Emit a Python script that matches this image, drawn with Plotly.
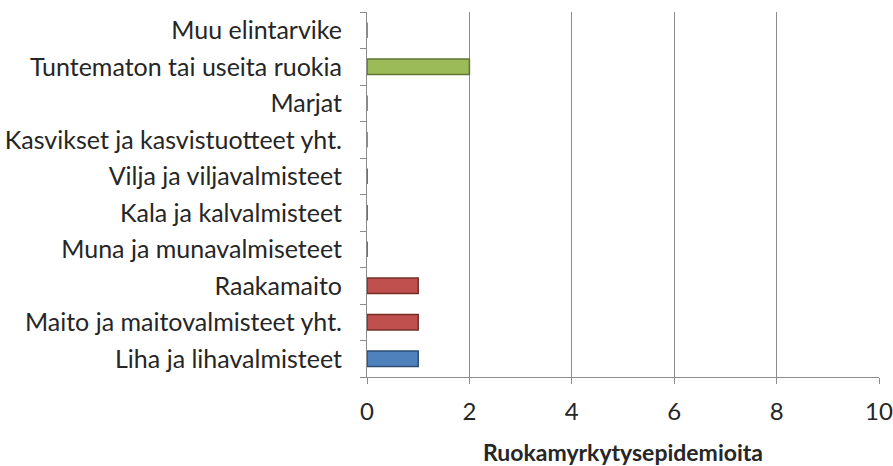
import plotly.graph_objects as go

categories = [
    "Liha ja lihavalmisteet",
    "Maito ja maitovalmisteet yht.",
    "Raakamaito",
    "Muna ja munavalmiseteet",
    "Kala ja kalvalmisteet",
    "Vilja ja viljavalmisteet",
    "Kasvikset ja kasvistuotteet yht.",
    "Marjat",
    "Tuntematon tai useita ruokia",
    "Muu elintarvike",
]
values = [1, 1, 1, 0, 0, 0, 0, 0, 2, 0]
colors = ["#4F81BD", "#C0504D", "#C0504D", "#C0504D", "#C0504D",
          "#C0504D", "#9BBB59", "#9BBB59", "#9BBB59", "#9BBB59"]
lines = ["#2C4D75", "#772C2A", "#772C2A", "#772C2A", "#772C2A",
         "#772C2A", "#5F7530", "#5F7530", "#5F7530", "#5F7530"]
x_ticks = [0, 2, 4, 6, 8, 10]
x_title = "Ruokamyrkytysepidemioita"

fig = go.Figure()
fig.add_trace(go.Bar(
    y=categories, x=values, orientation="h",
    marker=dict(color=colors, line=dict(color=lines, width=1.5)),
    width=0.42,
))

font_family = "Lato, Carlito, Calibri, sans-serif"
fig.update_layout(
    width=893, height=466,
    margin=dict(l=367, r=14, t=12, b=89),
    paper_bgcolor="white", plot_bgcolor="white",
    showlegend=False,
    font=dict(family=font_family, size=25, color="#262626"),
    xaxis=dict(
        range=[0, 10], tickvals=x_ticks, showgrid=True, gridcolor="#8C8C8C",
        gridwidth=1, zeroline=False, showline=True, linecolor="#8C8C8C",
        ticks="outside", ticklen=6, tickcolor="#8C8C8C",
        tickfont=dict(size=24), mirror=False, automargin=False,
        ticklabelstandoff=7,
        title=dict(text="<b>" + x_title + "</b>", font=dict(size=23), standoff=21),
    ),
    yaxis=dict(
        type="category", categoryorder="array", categoryarray=categories,
        showline=True, linecolor="#8C8C8C", ticks="outside", ticklen=6,
        tickcolor="#8C8C8C", tickson="boundaries", showgrid=False,
        tickfont=dict(size=25), ticklabelstandoff=19, automargin=False,
    ),
)

fig.write_html(
    "out.html",
    config={"displayModeBar": False},
    post_script="document.body.style.margin='0';document.body.style.overflow='hidden';",
)
